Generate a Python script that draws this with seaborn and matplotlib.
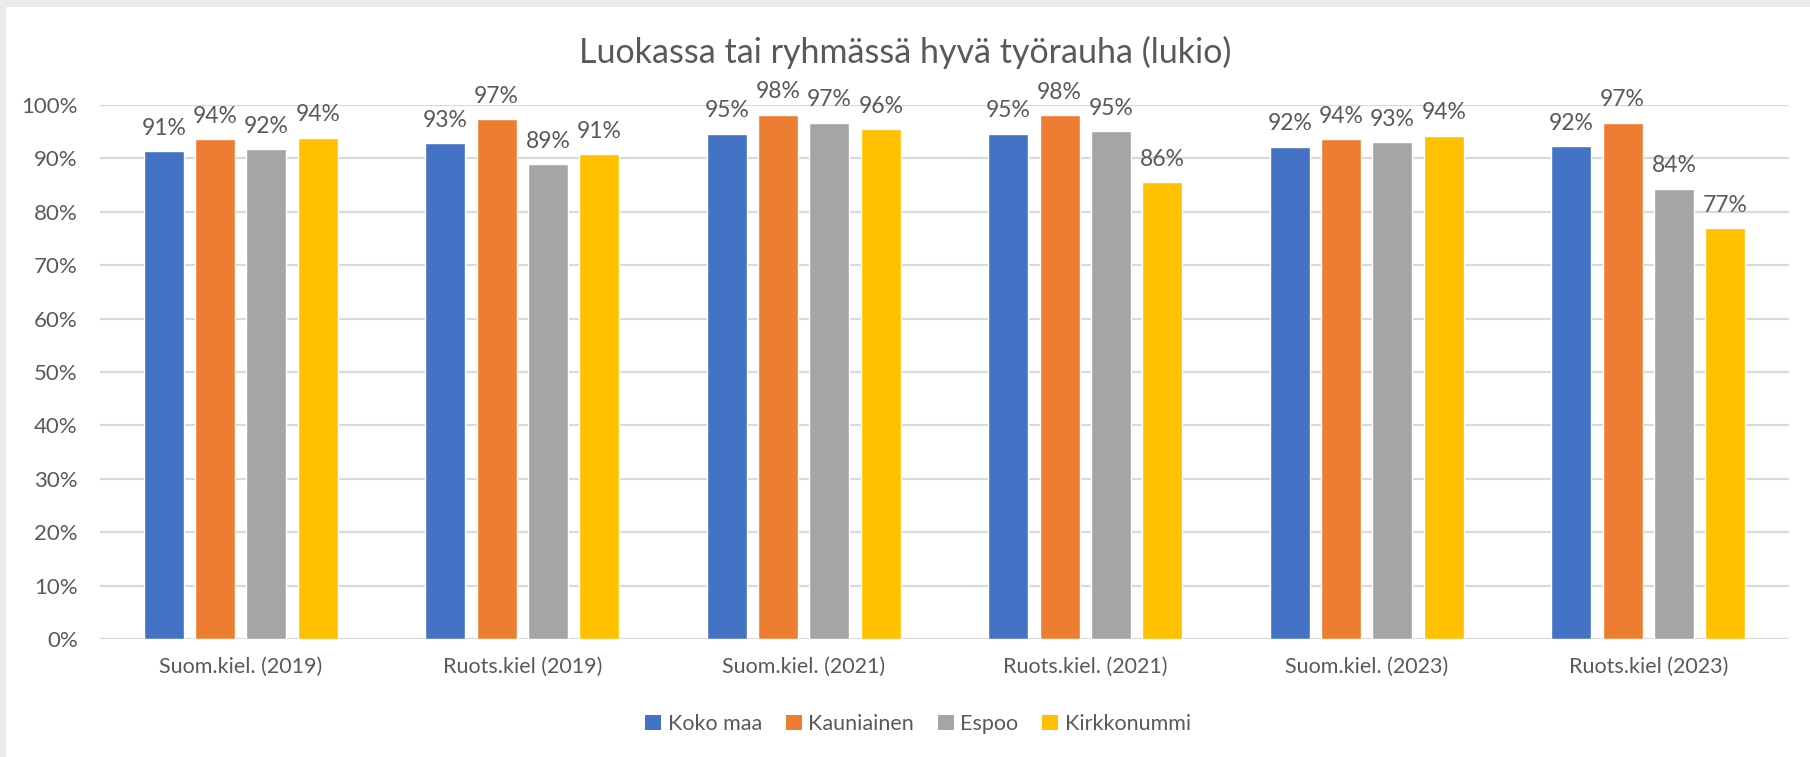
import matplotlib
matplotlib.use("Agg")
import matplotlib.pyplot as plt
from matplotlib.patches import Patch, Rectangle
import seaborn as sns
import pandas as pd

categories = [
    "Suom.kiel. (2019)",
    "Ruots.kiel (2019)",
    "Suom.kiel. (2021)",
    "Ruots.kiel. (2021)",
    "Suom.kiel. (2023)",
    "Ruots.kiel (2023)",
]
series = ["Koko maa", "Kauniainen", "Espoo", "Kirkkonummi"]
koko_maa = [0.913, 0.928, 0.946, 0.946, 0.922, 0.923]
kauniainen = [0.936, 0.973, 0.982, 0.981, 0.936, 0.967]
espoo = [0.917, 0.889, 0.967, 0.951, 0.930, 0.843]
kirkkonummi = [0.939, 0.908, 0.955, 0.855, 0.942, 0.769]
colors = ["#4472C4", "#ED7D31", "#A5A5A5", "#FFC000"]

rows = []
for name, vals in zip(series, [koko_maa, kauniainen, espoo, kirkkonummi]):
    for cat, v in zip(categories, vals):
        rows.append({"kategoria": cat, "sarja": name, "osuus": v})
df = pd.DataFrame(rows)

sns.set_style("white")
plt.rcParams["font.family"] = ["Lato", "DejaVu Sans"]
text_col = "#595959"
grid_col = "#D9D9D9"

W, H = 1810, 757
fig = plt.figure(figsize=(W / 100, H / 100), dpi=100, facecolor="#EBEBEB")
fig.patches.append(Rectangle((6 / W, 0), 1, 1 - 7 / H, transform=fig.transFigure,
                             facecolor="white", edgecolor="none", zorder=-5))
ax = fig.add_axes([100 / W, 118 / H, (1789 - 100) / W, (639 - 105) / H])
ax.set_facecolor("none")

sns.barplot(data=df, x="kategoria", y="osuus", hue="sarja", order=categories,
            hue_order=series, palette=colors, width=0.73, gap=0.22,
            saturation=1, errorbar=None, legend=False, ax=ax, zorder=3)

for cont in ax.containers:
    ax.bar_label(cont, labels=[f"{v:.0%}" for v in cont.datavalues],
                 padding=9, fontsize=16.5, color=text_col)

ax.set_ylim(0, 1)
ax.set_xlim(-0.5, len(categories) - 0.5)
ax.set_yticks([i / 10 for i in range(11)])
ax.set_yticklabels([f"{i * 10}%" for i in range(11)])
ax.yaxis.grid(True, color=grid_col, linewidth=1.6, zorder=0)
ax.set_axisbelow(True)
for s in ax.spines.values():
    s.set_visible(False)
ax.tick_params(axis="both", length=0, labelsize=15.5, labelcolor=text_col)
ax.tick_params(axis="y", labelsize=16)
ax.tick_params(axis="x", pad=13)
ax.tick_params(axis="y", pad=16)
ax.set_xlabel("")
ax.set_ylabel("")

fig.text(905 / W, 1 - 52 / H, "Luokassa tai ryhmässä hyvä työrauha (lukio)",
         ha="center", va="center", fontsize=24.5, color=text_col)

handles = [Patch(facecolor=c, edgecolor="none") for c in colors]
fig.legend(handles, series, loc="center", bbox_to_anchor=(918 / W, 1 - 724 / H),
           ncol=4, frameon=False, fontsize=15.5, labelcolor=text_col,
           handlelength=0.75, handleheight=0.75, handletextpad=0.3,
           columnspacing=1.1)

fig.savefig("out.png", dpi=100, facecolor=fig.get_facecolor())
